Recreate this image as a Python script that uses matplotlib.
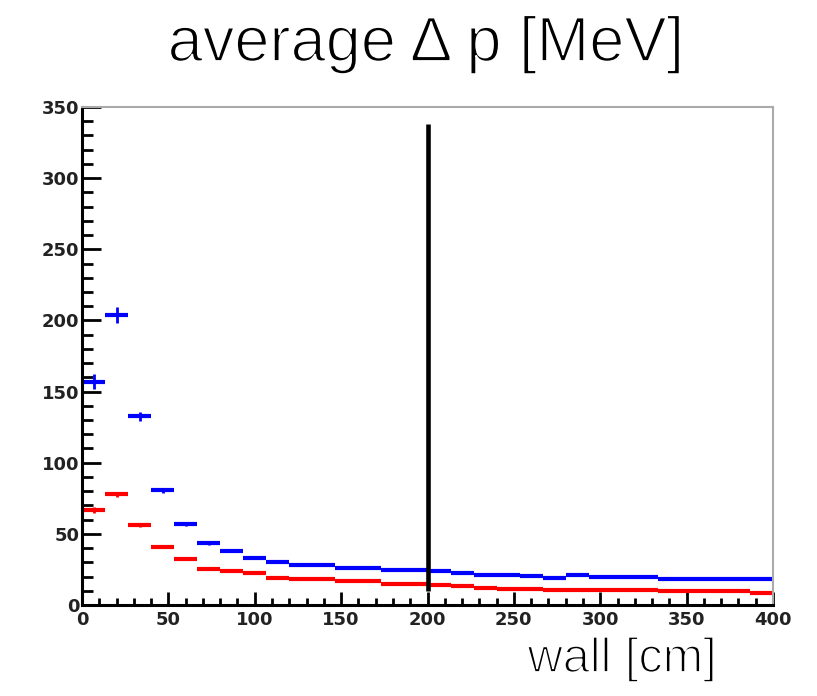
import numpy as np
import matplotlib
matplotlib.use("Agg")
import matplotlib.pyplot as plt
import matplotlib.patheffects as pe
from matplotlib.ticker import MultipleLocator

# 30 bins over the wall distance, 0..400 cm
edges = np.linspace(0, 400, 31)

blue = [157, 204, 132.5, 80.5, 56.6, 43.4, 38, 32.9, 30, 28.2,
        28, 26, 26, 24.4, 24.4, 24, 22.5, 21.4, 21.4, 20.2,
        19, 20.9, 19.8, 19.8, 19.8, 18.3, 18.3, 18.3, 18.3, 18.3]
blue_err = [5.5, 5.5, 3, 2, 1.2, 1, 0.8, 0.6, 0.5, 0.5,
            0.5, 0.5, 0.5, 0.5, 0.5, 0.5, 0.5, 0.5, 0.5, 0.5,
            0.5, 0.5, 0.5, 0.5, 0.5, 0.5, 0.5, 0.5, 0.5, 0.5]

red = [67, 77.7, 56.1, 41, 32.6, 25.6, 23.7, 22.5, 19, 18.1,
       18.1, 17, 17, 15, 15, 14.3, 13.1, 12, 11, 11,
       10.3, 10.3, 10.3, 10.3, 10.3, 9.9, 9.9, 9.9, 9.9, 8.7]
red_err = [2, 2, 1.5, 1, 0.8, 0.6, 0.5, 0.5, 0.5, 0.5,
           0.5, 0.5, 0.5, 0.5, 0.5, 0.5, 0.5, 0.5, 0.5, 0.5,
           0.5, 0.5, 0.5, 0.5, 0.5, 0.5, 0.5, 0.5, 0.5, 0.5]

cut_x = 200
cut_y = (10, 338)

centers = 0.5 * (edges[:-1] + edges[1:])
half_w = 0.5 * np.diff(edges)

fig = plt.figure(figsize=(8.17, 6.96), dpi=100)
ax = fig.add_axes([82 / 817, 1 - 605 / 696, 691 / 817, 498 / 696])

# horizontal bar = bin width, vertical bar = stat error (ROOT "E" style)
for vals, errs, col in [(red, red_err, "#ff0000"), (blue, blue_err, "#0000ff")]:
    ax.errorbar(centers, vals, xerr=half_w, fmt="none", ecolor=col,
                elinewidth=3.0, capsize=0)
    ax.errorbar(centers, vals, yerr=errs, fmt="none", ecolor=col,
                elinewidth=2.0, capsize=0)

ax.plot([cut_x, cut_x], cut_y, color="black", lw=3.3, solid_capstyle="butt")

ax.set_xlim(0, 400)
ax.set_ylim(0, 350)
ax.xaxis.set_major_locator(MultipleLocator(50))
ax.xaxis.set_minor_locator(MultipleLocator(10))
ax.yaxis.set_major_locator(MultipleLocator(50))
ax.yaxis.set_minor_locator(MultipleLocator(10))

ax.spines["left"].set_linewidth(2.2)
ax.spines["bottom"].set_linewidth(2.2)
for s in ("top", "right"):
    ax.spines[s].set_color("#aaaaaa")
    ax.spines[s].set_linewidth(1.5)

ax.tick_params(axis="y", which="major", direction="in", length=14, width=2, pad=2)
ax.tick_params(axis="y", which="minor", direction="in", length=8, width=2)
ax.tick_params(axis="x", which="major", direction="in", length=9.5, width=2, pad=4)
ax.tick_params(axis="x", which="minor", direction="in", length=5, width=2)

for lab in ax.get_xticklabels() + ax.get_yticklabels():
    lab.set_family("DejaVu Sans")
    lab.set_fontweight("bold")
    lab.set_fontsize(13)
    lab.set_color("#222222")

# a white edge stroke thins the glyphs down to a light weight
thin = [pe.Stroke(linewidth=1.3, foreground="white")]
fig.text(0.5214, 1 - 61 / 696, "average \u0394 p [MeV]", ha="center", va="baseline",
         family="Liberation Sans", fontsize=45.5, path_effects=thin)
fig.text(717 / 817, 1 - 672 / 696, "wall [cm]", ha="right", va="baseline",
         family="Liberation Sans", fontsize=35, path_effects=thin)

fig.savefig("out.png", dpi=100)
